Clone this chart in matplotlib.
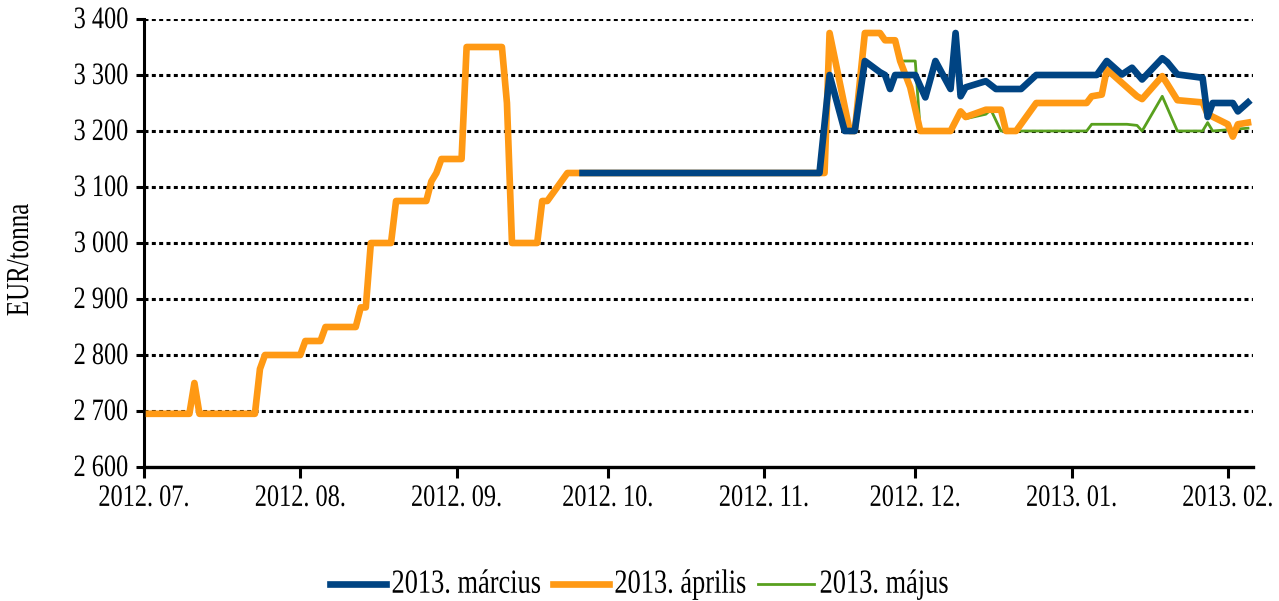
import matplotlib
matplotlib.use('Agg')
import matplotlib.pyplot as plt
import matplotlib.dates as mdates
import matplotlib.patheffects as pe
from matplotlib.transforms import Affine2D, offset_copy
import pandas as pd

# futures price quotes, EUR/tonna, by contract month
aprilis_dates = ['2012-07-02', '2012-07-10', '2012-07-11', '2012-07-12', '2012-07-23',
                 '2012-07-24', '2012-07-25', '2012-08-01', '2012-08-02', '2012-08-05',
                 '2012-08-06', '2012-08-12', '2012-08-13', '2012-08-14', '2012-08-15',
                 '2012-08-19', '2012-08-20', '2012-08-26', '2012-08-27', '2012-08-28',
                 '2012-08-29', '2012-09-02', '2012-09-03', '2012-09-10', '2012-09-11',
                 '2012-09-12', '2012-09-17', '2012-09-18', '2012-09-19', '2012-09-23',
                 '2012-11-13', '2012-11-14', '2012-11-18', '2012-11-19', '2012-11-21',
                 '2012-11-24', '2012-11-25', '2012-11-27', '2012-11-28', '2012-11-30',
                 '2012-12-02', '2012-12-08', '2012-12-10', '2012-12-11', '2012-12-15',
                 '2012-12-18', '2012-12-19', '2012-12-21', '2012-12-25', '2013-01-04',
                 '2013-01-05', '2013-01-07', '2013-01-08', '2013-01-12', '2013-01-14',
                 '2013-01-15', '2013-01-19', '2013-01-20', '2013-01-22', '2013-01-27',
                 '2013-01-28', '2013-02-01', '2013-02-02', '2013-02-03', '2013-02-05']
aprilis_vals = [2695, 2695, 2750, 2695, 2695,
                2775, 2800, 2800, 2825, 2825,
                2850, 2850, 2885, 2885, 3000,
                3000, 3075, 3075, 3110, 3125,
                3150, 3150, 3350, 3350, 3250,
                3000, 3000, 3075, 3075, 3125,
                3125, 3375, 3200, 3200, 3375,
                3375, 3362, 3362, 3325, 3278,
                3200, 3200, 3235, 3225, 3238,
                3238, 3200, 3200, 3250, 3250,
                3262, 3265, 3310, 3278, 3262,
                3257, 3298, 3284, 3255, 3251,
                3230, 3212, 3190, 3212, 3215]

marcius_dates = ['2012-09-26', '2012-11-12', '2012-11-14', '2012-11-17', '2012-11-19',
                 '2012-11-21', '2012-11-24', '2012-11-25', '2012-11-26', '2012-11-27',
                 '2012-12-01', '2012-12-03', '2012-12-05', '2012-12-08', '2012-12-09',
                 '2012-12-10', '2012-12-11', '2012-12-15', '2012-12-17', '2012-12-22',
                 '2012-12-25', '2013-01-06', '2013-01-08', '2013-01-11', '2013-01-13',
                 '2013-01-15', '2013-01-19', '2013-01-20', '2013-01-22', '2013-01-27',
                 '2013-01-28', '2013-01-29', '2013-02-02', '2013-02-03', '2013-02-05']
marcius_vals = [3125, 3125, 3300, 3200, 3200,
                3325, 3305, 3300, 3275, 3300,
                3300, 3260, 3325, 3275, 3375,
                3262, 3278, 3289, 3275, 3275,
                3300, 3300, 3325, 3301, 3313,
                3292, 3330, 3323, 3301, 3295,
                3225, 3250, 3250, 3235, 3251]

majus_dates = ['2012-09-26', '2012-11-13', '2012-11-14', '2012-11-18', '2012-11-19',
               '2012-11-21', '2012-11-24', '2012-11-25', '2012-11-27', '2012-11-28',
               '2012-12-01', '2012-12-02', '2012-12-08', '2012-12-10', '2012-12-11',
               '2012-12-15', '2012-12-16', '2012-12-18', '2013-01-04', '2013-01-05',
               '2013-01-12', '2013-01-14', '2013-01-15', '2013-01-19', '2013-01-22',
               '2013-01-27', '2013-01-28', '2013-01-29', '2013-02-05']
majus_vals = [3125, 3125, 3375, 3200, 3200,
              3375, 3375, 3362, 3362, 3325,
              3325, 3200, 3200, 3235, 3222,
              3230, 3238, 3200, 3200, 3212,
              3212, 3210, 3200, 3262, 3200,
              3200, 3215, 3200, 3205]

month_ticks = ['2012-07-01', '2012-08-01', '2012-09-01', '2012-10-01',
               '2012-11-01', '2012-12-01', '2013-01-01', '2013-02-01']
y_ticks = [2600, 2700, 2800, 2900, 3000, 3100, 3200, 3300, 3400]


class TallText(pe.AbstractPathEffect):
    """Stretch glyphs vertically about the baseline (narrow Times look)."""
    def __init__(self, sy=1.25):
        super().__init__()
        self.sy = sy

    def draw_path(self, renderer, gc, tpath, affine, rgbFace=None):
        renderer.draw_path(gc, tpath, Affine2D().scale(1, self.sy) + affine, rgbFace)


tall = [TallText(1.28)]

plt.rcParams['font.family'] = ['Liberation Serif', 'DejaVu Serif']

fig = plt.figure(figsize=(12.79, 6.01), dpi=100)
W, H = 1279, 601
ax = fig.add_axes([144 / W, (H - 467) / H, (1253 - 144) / W, (467 - 19) / H])

ax.plot(pd.to_datetime(majus_dates), majus_vals, color='#58a01e', lw=2.0,
        solid_joinstyle='round', label='2013. május', zorder=3)
ax.plot(pd.to_datetime(aprilis_dates), aprilis_vals, color='#ff9914', lw=4.8,
        solid_joinstyle='round', label='2013. április', zorder=4)
ax.plot(pd.to_datetime(marcius_dates), marcius_vals, color='#004483', lw=4.8,
        solid_joinstyle='round', label='2013. március', zorder=5)

ax.set_xlim(pd.Timestamp('2012-07-01'), pd.Timestamp('2013-02-06'))
ax.set_ylim(2600, 3400)

xt = pd.to_datetime(month_ticks)
ax.set_xticks(xt)
ax.set_yticks(y_ticks)

for v in y_ticks[1:]:
    ax.axhline(v, color='black', lw=2.2, linestyle=(0, (1.3, 1.1)), zorder=1)

for s in ['top', 'right']:
    ax.spines[s].set_visible(False)
ax.spines['left'].set_linewidth(2.2)
ax.spines['bottom'].set_linewidth(2.4)
ax.tick_params(axis='both', direction='out', width=2.2, colors='black',
               labelleft=False, labelbottom=False)
ax.tick_params(axis='y', length=6)
ax.tick_params(axis='x', length=8)

# tick labels placed by hand so they can carry the tall-glyph effect
xlab_tr = offset_copy(ax.get_xaxis_transform(), fig=fig, y=-28, units='points')
for d in xt:
    ax.text(d, 0, d.strftime('%Y. %m.'), transform=xlab_tr, ha='center', va='baseline',
            fontsize=17.5, path_effects=tall, clip_on=False)
ylab_tr = offset_copy(ax.get_yaxis_transform(), fig=fig, x=-11.5, y=-6.5, units='points')
for v in y_ticks:
    ax.text(0, v, f'{v:,}'.replace(',', ' '), transform=ylab_tr, ha='right', va='baseline',
            fontsize=17.5, path_effects=tall, clip_on=False)

ax.text(22 / W, 1 - 260 / H, 'EUR/tonna', transform=fig.transFigure, rotation=90,
        ha='center', va='center', fontsize=18, path_effects=tall)

handles, labels = ax.get_legend_handles_labels()
order = [2, 1, 0]
leg = fig.legend([handles[i] for i in order], [labels[i] for i in order],
                 loc='center', bbox_to_anchor=(0.5, 1 - 586 / H), ncol=3, frameon=False,
                 fontsize=19, handlelength=2.1, handletextpad=0.22, columnspacing=0.45)
for t in leg.get_texts():
    t.set_path_effects(tall)

fig.savefig('out.png', dpi=100)
